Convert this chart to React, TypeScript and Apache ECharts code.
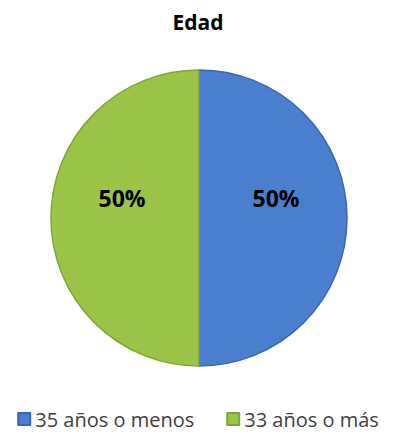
import React, { useEffect, useRef } from "react";
import * as echarts from "echarts";

const title = "Edad";
const categories = ["35 años o menos", "33 años o más"];
const values = [50, 50];
const colors = ["#4a7fd0", "#9cc547"];
const edgeColors = ["#3a66ad", "#7fa536"];

export default function App() {
  const ref = useRef<HTMLDivElement>(null);
  useEffect(() => {
    const chart = echarts.init(ref.current!, null, { renderer: "svg" });
    const font = "'Open Sans', 'Noto Sans', sans-serif";
    chart.setOption({
      animation: false,
      backgroundColor: "#ffffff",
      title: {
        text: title,
        left: "center",
        top: 6,
        textStyle: { fontFamily: font, fontWeight: "bold", fontSize: 21, color: "#000" },
      },
      legend: {
        top: 404,
        left: "center",
        icon: "rect",
        itemWidth: 12,
        itemHeight: 12,
        itemGap: 32,
        textStyle: { fontFamily: font, fontSize: 20, color: "#404040" },
        data: categories,
      },
      series: [
        {
          type: "pie",
          center: [199, 218],
          radius: [0, 148],
          startAngle: 90,
          clockwise: true,
          label: {
            show: true,
            position: "inside",
            formatter: "{d}%\n ",
            fontFamily: font,
            fontWeight: "bold",
            fontSize: 23,
            lineHeight: 40,
            color: "#000",
          },
          labelLine: { show: false },
          emphasis: { disabled: true },
          data: categories.map((c, i) => ({
            name: c,
            value: values[i],
            itemStyle: {
              color: colors[i],
              borderColor: edgeColors[i],
              borderWidth: 1.5,
            },
          })),
        },
      ],
    });
    return () => chart.dispose();
  }, []);
  return (
    <div
      ref={ref}
      style={{ position: "fixed", left: 0, top: 0, width: 396, height: 434 }}
    />
  );
}
